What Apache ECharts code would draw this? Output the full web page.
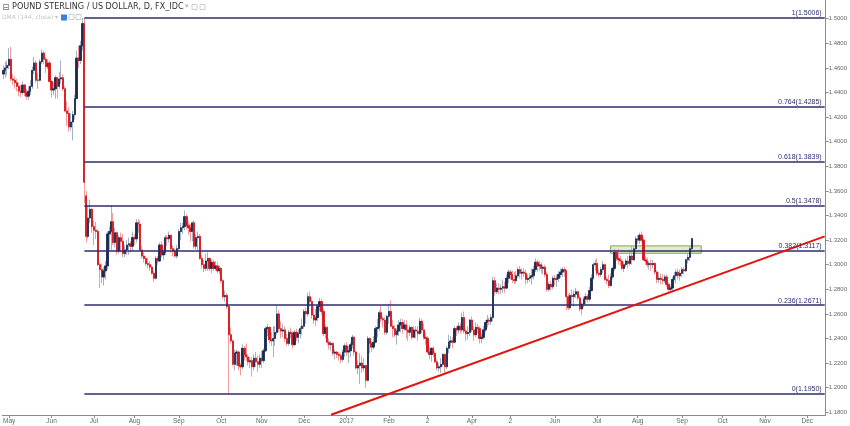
<!DOCTYPE html>
<html><head><meta charset="utf-8">
<script src="https://cdn.jsdelivr.net/npm/echarts@6/dist/echarts.min.js"></script>
<style>html,body{margin:0;padding:0;background:#fff}#c{width:850px;height:426px}</style>
</head><body><div id="c"></div>
<script>
// trading-day axis range
const startDate = '2016-04-27';
const endDate = '2017-12-14';
// daily candles [open, close, low, high]
const apr16 = [[1.455,1.458,1.451,1.462],[1.458,1.460,1.452,1.465],[1.460,1.462,1.454,1.466]];
const may16 = [[1.462,1.467,1.459,1.476],[1.467,1.451,1.449,1.477],[1.451,1.450,1.446,1.455],[1.450,1.448,1.443,1.453],[1.448,1.445,1.441,1.451],[1.445,1.441,1.437,1.448],[1.441,1.440,1.436,1.446],[1.440,1.446,1.438,1.449],[1.446,1.440,1.437,1.447],[1.440,1.437,1.434,1.443],[1.437,1.441,1.434,1.445],[1.441,1.445,1.438,1.450],[1.445,1.458,1.443,1.461],[1.458,1.464,1.455,1.469],[1.464,1.450,1.448,1.466],[1.450,1.450,1.443,1.456],[1.450,1.465,1.449,1.467],[1.465,1.472,1.463,1.475],[1.472,1.467,1.463,1.474],[1.467,1.461,1.456,1.469],[1.461,1.464,1.459,1.467],[1.464,1.449,1.448,1.466]];
const jun16 = [[1.449,1.442,1.436,1.450],[1.442,1.443,1.438,1.448],[1.443,1.452,1.435,1.454],[1.452,1.445,1.435,1.453],[1.445,1.451,1.443,1.457],[1.451,1.452,1.447,1.466],[1.452,1.443,1.441,1.455],[1.443,1.425,1.424,1.445],[1.425,1.423,1.413,1.433],[1.423,1.412,1.408,1.428],[1.412,1.416,1.409,1.423],[1.416,1.422,1.401,1.425],[1.422,1.435,1.418,1.438],[1.435,1.468,1.435,1.474],[1.468,1.466,1.460,1.478],[1.466,1.478,1.463,1.482],[1.478,1.496,1.474,1.5006],[1.496,1.367,1.350,1.5006],[1.356,1.323,1.318,1.360],[1.323,1.338,1.321,1.348],[1.338,1.345,1.334,1.353],[1.345,1.331,1.326,1.346]];
const jul16 = [[1.331,1.328,1.316,1.336],[1.328,1.327,1.321,1.335],[1.327,1.300,1.299,1.329],[1.300,1.296,1.281,1.302],[1.296,1.290,1.285,1.301],[1.290,1.295,1.283,1.298],[1.295,1.299,1.288,1.303],[1.299,1.325,1.296,1.327],[1.325,1.327,1.312,1.331],[1.327,1.335,1.312,1.348],[1.335,1.318,1.316,1.342],[1.318,1.326,1.314,1.330],[1.326,1.311,1.308,1.327],[1.311,1.322,1.309,1.324],[1.322,1.319,1.310,1.326],[1.319,1.309,1.306,1.325],[1.309,1.312,1.306,1.316],[1.312,1.316,1.308,1.320],[1.316,1.317,1.308,1.322],[1.317,1.315,1.310,1.319],[1.315,1.322,1.311,1.327]];
const aug16 = [[1.322,1.321,1.316,1.325],[1.321,1.334,1.318,1.337],[1.334,1.333,1.326,1.337],[1.333,1.312,1.311,1.336],[1.312,1.307,1.305,1.315],[1.307,1.305,1.302,1.310],[1.305,1.301,1.299,1.307],[1.301,1.300,1.297,1.306],[1.300,1.298,1.295,1.303],[1.298,1.293,1.292,1.300],[1.293,1.289,1.286,1.295],[1.289,1.305,1.288,1.307],[1.305,1.303,1.300,1.307],[1.303,1.316,1.302,1.318],[1.316,1.308,1.306,1.319],[1.308,1.310,1.304,1.313],[1.310,1.322,1.308,1.324],[1.322,1.321,1.315,1.324],[1.321,1.324,1.318,1.327],[1.324,1.313,1.310,1.324],[1.313,1.311,1.307,1.316],[1.311,1.307,1.306,1.313],[1.307,1.313,1.305,1.316]];
const sep16 = [[1.313,1.327,1.312,1.329],[1.327,1.330,1.320,1.334],[1.330,1.331,1.325,1.334],[1.331,1.339,1.328,1.344],[1.339,1.332,1.329,1.341],[1.332,1.330,1.324,1.335],[1.330,1.327,1.319,1.333],[1.327,1.334,1.319,1.335],[1.334,1.315,1.313,1.336],[1.315,1.322,1.312,1.325],[1.322,1.323,1.312,1.327],[1.323,1.305,1.304,1.325],[1.305,1.300,1.297,1.308],[1.300,1.297,1.294,1.304],[1.297,1.303,1.295,1.309],[1.303,1.305,1.295,1.310],[1.305,1.297,1.295,1.306],[1.297,1.302,1.293,1.304],[1.302,1.297,1.295,1.304],[1.297,1.299,1.295,1.303],[1.299,1.295,1.293,1.302],[1.295,1.297,1.292,1.299]];
const oct16 = [[1.297,1.287,1.285,1.298],[1.287,1.274,1.272,1.288],[1.274,1.275,1.270,1.279],[1.275,1.266,1.264,1.277],[1.266,1.243,1.195,1.267],[1.243,1.238,1.236,1.249],[1.238,1.219,1.218,1.239],[1.219,1.228,1.214,1.231],[1.228,1.229,1.218,1.231],[1.229,1.218,1.214,1.230],[1.218,1.217,1.210,1.220],[1.217,1.232,1.215,1.235],[1.232,1.227,1.222,1.234],[1.227,1.225,1.222,1.236],[1.225,1.221,1.218,1.227],[1.221,1.222,1.216,1.225],[1.222,1.217,1.209,1.225],[1.217,1.224,1.214,1.227],[1.224,1.221,1.217,1.229],[1.221,1.219,1.213,1.226],[1.219,1.224,1.216,1.227]];
const nov16 = [[1.224,1.222,1.216,1.230],[1.222,1.230,1.220,1.232],[1.230,1.248,1.229,1.250],[1.248,1.249,1.242,1.252],[1.249,1.239,1.236,1.250],[1.239,1.238,1.234,1.245],[1.238,1.240,1.225,1.250],[1.240,1.245,1.234,1.250],[1.245,1.260,1.243,1.267],[1.260,1.248,1.245,1.263],[1.248,1.246,1.240,1.254],[1.246,1.247,1.241,1.252],[1.247,1.240,1.237,1.250],[1.240,1.236,1.234,1.244],[1.236,1.245,1.234,1.247],[1.245,1.244,1.240,1.249],[1.244,1.235,1.232,1.246],[1.235,1.245,1.234,1.247],[1.245,1.241,1.238,1.248],[1.241,1.244,1.236,1.247],[1.244,1.248,1.240,1.250],[1.248,1.250,1.243,1.256]];
const dec16 = [[1.250,1.262,1.248,1.264],[1.262,1.260,1.252,1.265],[1.260,1.274,1.258,1.277],[1.274,1.270,1.266,1.278],[1.270,1.259,1.256,1.273],[1.259,1.255,1.252,1.266],[1.255,1.257,1.250,1.264],[1.257,1.266,1.254,1.268],[1.266,1.270,1.262,1.273],[1.270,1.262,1.259,1.272],[1.262,1.244,1.242,1.264],[1.244,1.249,1.240,1.251],[1.249,1.237,1.235,1.250],[1.237,1.235,1.231,1.240],[1.235,1.236,1.230,1.238],[1.236,1.228,1.226,1.237],[1.228,1.229,1.223,1.231],[1.229,1.227,1.224,1.230],[1.227,1.226,1.222,1.229],[1.226,1.223,1.220,1.228],[1.223,1.229,1.221,1.231],[1.229,1.234,1.225,1.236]];
const jan17 = [[1.234,1.229,1.226,1.237],[1.229,1.230,1.220,1.234],[1.230,1.235,1.225,1.237],[1.235,1.241,1.232,1.243],[1.241,1.229,1.226,1.242],[1.229,1.216,1.215,1.230],[1.216,1.218,1.211,1.222],[1.218,1.220,1.203,1.228],[1.220,1.216,1.212,1.226],[1.216,1.218,1.213,1.224],[1.218,1.206,1.200,1.218],[1.206,1.240,1.205,1.242],[1.240,1.236,1.228,1.241],[1.236,1.233,1.229,1.238],[1.233,1.237,1.231,1.242],[1.237,1.248,1.236,1.250],[1.248,1.249,1.241,1.256],[1.249,1.261,1.246,1.263],[1.261,1.256,1.253,1.267],[1.256,1.255,1.249,1.258],[1.255,1.245,1.243,1.257],[1.245,1.258,1.243,1.259]];
const feb17 = [[1.258,1.262,1.252,1.268],[1.262,1.250,1.249,1.271],[1.250,1.248,1.241,1.255],[1.248,1.243,1.241,1.251],[1.243,1.246,1.235,1.248],[1.246,1.251,1.242,1.255],[1.251,1.253,1.245,1.256],[1.253,1.248,1.244,1.256],[1.248,1.251,1.246,1.255],[1.251,1.247,1.240,1.255],[1.247,1.245,1.238,1.251],[1.245,1.249,1.242,1.251],[1.249,1.241,1.239,1.250],[1.241,1.247,1.240,1.250],[1.247,1.246,1.240,1.250],[1.246,1.244,1.238,1.250],[1.244,1.254,1.243,1.257],[1.254,1.247,1.244,1.256],[1.247,1.241,1.239,1.252],[1.241,1.240,1.235,1.245]];
const mar17 = [[1.240,1.229,1.228,1.242],[1.229,1.227,1.223,1.233],[1.227,1.232,1.221,1.233],[1.232,1.228,1.225,1.234],[1.228,1.221,1.220,1.230],[1.221,1.216,1.214,1.223],[1.216,1.217,1.213,1.220],[1.217,1.219,1.212,1.224],[1.219,1.227,1.217,1.228],[1.227,1.217,1.211,1.228],[1.217,1.232,1.215,1.234],[1.232,1.237,1.228,1.243],[1.237,1.238,1.233,1.242],[1.238,1.237,1.232,1.241],[1.237,1.248,1.236,1.250],[1.248,1.247,1.242,1.250],[1.247,1.250,1.244,1.253],[1.250,1.247,1.244,1.253],[1.247,1.257,1.245,1.261],[1.257,1.246,1.244,1.262],[1.246,1.244,1.238,1.248],[1.244,1.245,1.239,1.250],[1.245,1.255,1.242,1.256]];
const apr17 = [[1.255,1.247,1.245,1.258],[1.247,1.243,1.238,1.250],[1.243,1.249,1.241,1.253],[1.249,1.248,1.244,1.252],[1.248,1.240,1.236,1.250],[1.240,1.241,1.236,1.244],[1.241,1.247,1.239,1.250],[1.247,1.253,1.245,1.255],[1.253,1.255,1.249,1.259],[1.255,1.254,1.251,1.257],[1.254,1.257,1.251,1.260],[1.257,1.287,1.254,1.290],[1.287,1.278,1.275,1.290],[1.278,1.281,1.276,1.285],[1.281,1.280,1.276,1.285],[1.280,1.281,1.276,1.284],[1.281,1.282,1.277,1.288],[1.282,1.281,1.277,1.286],[1.281,1.289,1.280,1.292],[1.289,1.294,1.285,1.296]];
const may17 = [[1.294,1.292,1.288,1.296],[1.292,1.288,1.285,1.295],[1.288,1.287,1.284,1.294],[1.287,1.291,1.285,1.295],[1.291,1.296,1.289,1.298],[1.296,1.293,1.289,1.299],[1.293,1.294,1.288,1.297],[1.294,1.293,1.290,1.297],[1.293,1.288,1.284,1.296],[1.288,1.289,1.285,1.292],[1.289,1.290,1.286,1.293],[1.290,1.291,1.284,1.297],[1.291,1.296,1.288,1.299],[1.296,1.302,1.294,1.305],[1.302,1.299,1.294,1.304],[1.299,1.300,1.295,1.303],[1.300,1.297,1.293,1.302],[1.297,1.298,1.292,1.300],[1.298,1.292,1.290,1.300],[1.292,1.280,1.278,1.294],[1.280,1.284,1.278,1.286],[1.284,1.282,1.279,1.287],[1.282,1.289,1.280,1.291]];
const jun17 = [[1.289,1.288,1.283,1.292],[1.288,1.289,1.282,1.292],[1.289,1.292,1.286,1.295],[1.292,1.294,1.289,1.297],[1.294,1.296,1.290,1.298],[1.296,1.295,1.290,1.298],[1.295,1.274,1.263,1.296],[1.274,1.265,1.263,1.276],[1.265,1.275,1.264,1.277],[1.275,1.274,1.267,1.280],[1.274,1.276,1.266,1.279],[1.276,1.278,1.273,1.281],[1.278,1.273,1.271,1.279],[1.273,1.264,1.262,1.275],[1.264,1.268,1.259,1.269],[1.268,1.272,1.265,1.274],[1.272,1.274,1.267,1.277],[1.274,1.272,1.269,1.276],[1.272,1.279,1.270,1.282],[1.279,1.289,1.278,1.292],[1.289,1.300,1.288,1.302],[1.300,1.301,1.295,1.304]];
const jul17 = [[1.301,1.293,1.291,1.305],[1.293,1.292,1.290,1.296],[1.292,1.296,1.290,1.298],[1.296,1.300,1.293,1.303],[1.300,1.288,1.287,1.301],[1.288,1.287,1.284,1.290],[1.287,1.283,1.281,1.292],[1.283,1.290,1.282,1.293],[1.290,1.297,1.288,1.298],[1.297,1.310,1.295,1.313],[1.310,1.305,1.303,1.312],[1.305,1.304,1.300,1.313],[1.304,1.303,1.299,1.307],[1.303,1.297,1.296,1.305],[1.297,1.300,1.294,1.302],[1.300,1.303,1.298,1.305],[1.303,1.301,1.297,1.307],[1.301,1.307,1.299,1.312],[1.307,1.304,1.300,1.316],[1.304,1.313,1.303,1.315],[1.313,1.321,1.310,1.323]];
const aug17 = [[1.321,1.320,1.317,1.324],[1.320,1.324,1.317,1.326],[1.324,1.320,1.318,1.327],[1.320,1.304,1.303,1.322],[1.304,1.303,1.300,1.307],[1.303,1.300,1.298,1.306],[1.300,1.301,1.296,1.303],[1.301,1.300,1.295,1.304],[1.300,1.301,1.297,1.304],[1.301,1.294,1.292,1.302],[1.294,1.288,1.285,1.295],[1.288,1.289,1.285,1.294],[1.289,1.288,1.284,1.293],[1.288,1.287,1.284,1.292],[1.287,1.290,1.285,1.292],[1.290,1.284,1.282,1.292],[1.284,1.280,1.278,1.285],[1.280,1.281,1.277,1.283],[1.281,1.288,1.279,1.290],[1.288,1.291,1.287,1.294],[1.291,1.294,1.285,1.296],[1.294,1.291,1.288,1.297],[1.291,1.293,1.287,1.296]];
const sep17 = [[1.293,1.296,1.290,1.298],[1.296,1.295,1.292,1.298],[1.295,1.304,1.294,1.305],[1.304,1.306,1.301,1.309],[1.306,1.313,1.303,1.316],[1.313,1.3212,1.310,1.322]];
// Fibonacci retracement
const fibRatios = ['1','0.764','0.618','0.5','0.382','0.236','0'];
const fibLevels = [1.5006,1.4285,1.3839,1.3478,1.3117,1.2671,1.1950];
const fibStart = '2016-06-24';
// trendline and resistance zone
const trendStart = ['2016-12-21', 1.1780];
const trendEnd = ['2017-12-14', 1.3230];
const zoneDates = ['2017-07-12', '2017-09-15'];
const zonePrices = [1.3093, 1.3153];
const lastPrice = 1.3212;
// axes
const yTicks = [1.18,1.20,1.22,1.24,1.26,1.28,1.30,1.32,1.34,1.36,1.38,1.40,1.42,1.44,1.46,1.48,1.50];
const monthLabels = ['May','Jun','Jul','Aug','Sep','Oct','Nov','Dec','2017','Feb','2','Apr','2','Jun','Jul','Aug','Sep','Oct','Nov','Dec'];

const cats = [];
for (let t = Date.parse(startDate + 'T00:00:00Z'); t <= Date.parse(endDate + 'T00:00:00Z'); t += 864e5) {
  const d = new Date(t); const wd = d.getUTCDay();
  if (wd === 0 || wd === 6) continue;
  cats.push(d.toISOString().slice(0, 10));
}
const monthData = [['2016-04',apr16],['2016-05',may16],['2016-06',jun16],['2016-07',jul16],['2016-08',aug16],['2016-09',sep16],['2016-10',oct16],['2016-11',nov16],['2016-12',dec16],['2017-01',jan17],['2017-02',feb17],['2017-03',mar17],['2017-04',apr17],['2017-05',may17],['2017-06',jun17],['2017-07',jul17],['2017-08',aug17],['2017-09',sep17]];
const ohlc = [];
monthData.forEach(([m, arr]) => {
  const first = cats.findIndex(d => d.startsWith(m));
  arr.forEach((c, i) => ohlc.push([first + i, c[0], c[1], c[2], c[3]]));
});
const bodies = ohlc.map(r => [r[0], r[1], r[2], Math.min(r[1], r[2]), Math.max(r[1], r[2])]);

const labelAt = {};
let li = 0;
cats.forEach((d, i) => { if (i > 0 && d.slice(0, 7) !== cats[i - 1].slice(0, 7)) labelAt[i] = monthLabels[li++]; });

const FIB = '#2d2d6e';
const chart = echarts.init(document.getElementById('c'), null, {renderer: 'canvas'});
chart.setOption({
  animation: false,
  backgroundColor: '#ffffff',
  grid: {left: 0, right: 24, top: 0, bottom: 11, containLabel: false},
  xAxis: {
    type: 'category', data: cats, boundaryGap: true,
    axisLine: {lineStyle: {color: '#8c8c8c', width: 1}},
    axisTick: {show: true, length: 3, alignWithLabel: true, interval: i => i in labelAt, lineStyle: {color: '#8c8c8c'}},
    axisLabel: {interval: i => i in labelAt, formatter: (v, i) => labelAt[i] || '', fontSize: 6.5, color: '#666', margin: 3, fontFamily: 'Liberation Sans'},
    splitLine: {show: false}
  },
  yAxis: {
    type: 'value', position: 'right', min: 1.1778, max: 1.5152, scale: true,
    axisLine: {show: true, lineStyle: {color: '#8c8c8c', width: 1}},
    axisTick: {show: true, length: 3, customValues: yTicks, lineStyle: {color: '#8c8c8c'}},
    axisLabel: {customValues: yTicks, formatter: v => v.toFixed(4), fontSize: 6, color: '#666', margin: 3, fontFamily: 'Liberation Sans'},
    splitLine: {show: false}
  },
  graphic: [
    {type: 'text', left: 2, top: 3, style: {text: '⊟', font: '9px "DejaVu Sans"', fill: '#777'}},
    {type: 'text', left: 12, top: 2.5, style: {text: 'POUND STERLING / US DOLLAR, D, FX_IDC', font: '9px "DejaVu Sans Condensed"', fill: '#333'}},
    {type: 'text', left: 185, top: 3, style: {text: '▾', font: '7px "DejaVu Sans"', fill: '#bbb'}},
    {type: 'rect', shape: {x: 192, y: 4.5, width: 5, height: 5}, style: {fill: 'none', stroke: '#ccc', lineWidth: 1}},
    {type: 'rect', shape: {x: 200, y: 4.5, width: 5, height: 5}, style: {fill: 'none', stroke: '#ccc', lineWidth: 1}},
    {type: 'text', left: 2, top: 14, style: {text: 'DMA (144, close) ▾', font: '6px "DejaVu Sans"', fill: '#c4c4c4'}},
    {type: 'rect', shape: {x: 61, y: 14.5, width: 6, height: 6}, style: {fill: '#3d7fd6'}},
    {type: 'rect', shape: {x: 69, y: 14.5, width: 5, height: 5}, style: {fill: 'none', stroke: '#ccc', lineWidth: 1}},
    {type: 'rect', shape: {x: 76, y: 14.5, width: 5, height: 5}, style: {fill: 'none', stroke: '#ccc', lineWidth: 1}}
  ],
  series: [
    {
      name: 'wicks', type: 'candlestick', data: ohlc, encode: {x: 0, y: [1, 2, 3, 4]},
      barWidth: 1.8, silent: true,
      itemStyle: {color: '#a3b3c7', color0: '#f39c9c', borderColor: '#a3b3c7', borderColor0: '#f39c9c', borderWidth: 1},
      markLine: {
        silent: true, symbol: 'none', animation: false,
        lineStyle: {color: FIB, width: 1.5, type: 'solid'},
        label: {show: true, position: 'insideEndTop', distance: [3, 1], color: FIB, fontSize: 7, fontFamily: 'Liberation Sans',
          formatter: p => fibRatios[p.dataIndex] + '(' + fibLevels[p.dataIndex].toFixed(4) + ')'},
        data: fibLevels.map(v => [{coord: [fibStart, v]}, {coord: [endDate, v]}])
      }
    },
    {
      name: 'GBPUSD', type: 'candlestick', data: bodies, encode: {x: 0, y: [1, 2, 3, 4]},
      barWidth: 1.8, silent: true,
      itemStyle: {color: '#1b2b4e', color0: '#d8161d', borderColor: '#1b2b4e', borderColor0: '#d8161d', borderWidth: 0.8},
      markArea: {
        silent: true,
        itemStyle: {color: 'rgba(160,192,100,0.30)', borderColor: '#86a24e', borderWidth: 1},
        data: [[{coord: [zoneDates[0], zonePrices[1]]}, {coord: [zoneDates[1], zonePrices[0]]}]]
      },
      markLine: {
        silent: true, symbol: 'none', animation: false,
        data: [
          [{coord: trendStart, lineStyle: {color: '#e3140c', width: 2, type: 'solid'}, label: {show: false}},
           {coord: trendEnd, lineStyle: {color: '#e3140c', width: 2, type: 'solid'}, label: {show: false}}],
          {yAxis: lastPrice, lineStyle: {opacity: 0, width: 0},
           label: {show: true, position: 'end', distance: 1, formatter: lastPrice.toFixed(4), backgroundColor: '#14294d', color: '#fff', fontSize: 6.5, fontWeight: 'bold', padding: [2, 3, 1, 3], fontFamily: 'Liberation Sans'}}
        ]
      }
    }
  ]
});
</script>
</body></html>
